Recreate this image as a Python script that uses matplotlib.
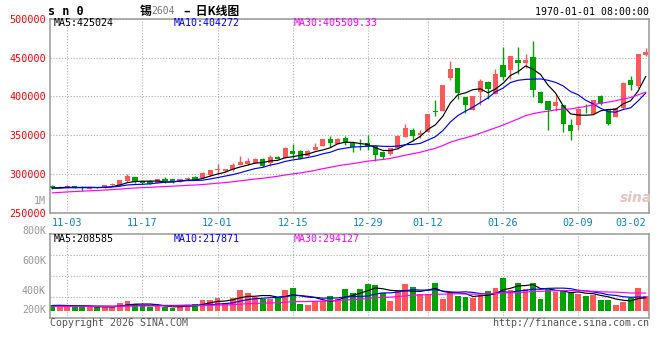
import matplotlib
matplotlib.use('Agg')
import matplotlib.pyplot as plt
import matplotlib.transforms as mtransforms
import pandas as pd

# daily bars of sn2604, oldest first (10-30 .. 03-02)
opens = [285500, 283000, 282900, 284600, 283000, 281200, 283300, 282500, 286000, 285900,
         291000, 296200, 291500, 291500, 289300, 294500, 294000, 291000, 293600, 296600,
         295300, 298700, 305100, 303800, 305100, 312000, 313700, 314500, 319700, 314200,
         322700, 321500, 330000, 330000, 323600, 331300, 336800, 345300, 338900, 347100,
         340600, 337700, 339800, 336800, 328700, 325700, 333400, 348300, 357300, 350000,
         354700, 381200, 381600, 423900, 436300, 398700, 382500, 406000, 418800, 403800,
         440100, 433700, 447400, 443100, 450800, 405600, 394000, 388000, 388900, 362900,
         363300, 382300, 377800, 400400, 383400, 374000, 384600, 420900, 413700, 452900]
highs = [286200, 285500, 286000, 285500, 284600, 283300, 284000, 286500, 289000, 293000,
         300000, 296800, 292000, 292500, 294500, 296600, 294500, 294000, 296000, 297500,
         302500, 305800, 312800, 307500, 314500, 323000, 320500, 320500, 320500, 324900,
         323200, 334500, 338500, 331000, 330800, 339800, 345500, 349200, 346500, 349200,
         341900, 344900, 350000, 337500, 329500, 334000, 350500, 364100, 359400, 356900,
         378000, 395300, 415000, 445300, 437000, 399500, 401000, 422200, 419500, 435000,
         463600, 452500, 463600, 455100, 470900, 406500, 394500, 403000, 389500, 370500,
         384800, 389800, 396000, 401700, 384000, 385600, 418500, 426000, 455000, 462800]
lows = [281500, 282500, 282500, 282000, 278700, 280800, 282000, 282000, 285500, 285500,
        290500, 289300, 288000, 287500, 288800, 288900, 289300, 290500, 293000, 292800,
        295000, 298200, 300800, 303200, 304500, 311500, 312000, 314000, 310000, 310800,
        319700, 321000, 320600, 319700, 323000, 330800, 336300, 335500, 338500, 337700,
        328300, 331300, 331300, 317600, 320200, 325000, 333000, 347800, 342800, 346200,
        354200, 375200, 381200, 421800, 397400, 378200, 382000, 388900, 396600, 403300,
        421800, 422200, 429500, 437200, 399600, 391000, 356900, 381200, 354700, 344100,
        356900, 378200, 377300, 389700, 363300, 373500, 384200, 408100, 411100, 452100]
closes = [282100, 284000, 285500, 282500, 282100, 282900, 282700, 285900, 288000, 292300,
          297900, 289800, 288500, 288000, 293600, 291500, 289800, 293600, 295300, 293200,
          301700, 305100, 306800, 306800, 312400, 316200, 317100, 319600, 310800, 322300,
          320200, 333800, 326100, 320200, 330000, 335500, 344900, 340200, 345800, 339800,
          334700, 337200, 334700, 324900, 322300, 333400, 349600, 359000, 349600, 352600,
          377400, 379500, 414500, 435000, 404700, 389300, 400400, 419600, 409400, 429500,
          425200, 451700, 443100, 446500, 408100, 391900, 382900, 392700, 365000, 356000,
          384200, 382000, 395300, 390200, 365000, 385100, 417500, 414500, 454200, 456800]
volumes = [92000, 92000, 70000, 70000, 70000, 54000, 54000, 76000, 54000, 129000,
           162000, 108000, 86000, 54000, 81000, 54000, 43000, 92000, 92000, 108000,
           173000, 173000, 205000, 125000, 205000, 335000, 291000, 216000, 184000, 195000,
           211000, 335000, 367000, 108000, 92000, 162000, 162000, 238000, 195000, 351000,
           287000, 351000, 437000, 416000, 287000, 162000, 313000, 437000, 383000, 270000,
           270000, 449000, 195000, 281000, 243000, 221000, 211000, 254000, 324000, 373000,
           529000, 335000, 449000, 351000, 453000, 195000, 352000, 296000, 324000, 287000,
           270000, 243000, 259000, 178000, 178000, 92000, 141000, 201000, 373000, 238000]

# sessions before the window: not drawn, only seed the moving averages
# (estimated from where the MA lines start on the left edge)
prior_closes = [266000, 267500, 266800, 268200, 269500, 268900, 270400, 271800, 272500, 271600,
                273800, 275200, 274600, 276300, 277500, 276900, 278200, 279400, 280300, 281600,
                281200, 280500, 282400, 281800, 280900, 283300, 282100, 284000, 282000]
prior_volumes = [62000, 70000, 58000, 66000, 74000, 60000, 68000, 72000, 64000, 58000,
                 70000, 66000, 76000, 62000, 68000, 72000, 60000, 66000, 70000, 78000,
                 64000, 70000, 62000, 68000, 71000, 80000, 88000, 76000, 89000]

tick_idx = [2, 12, 22, 32, 42, 50, 60, 70, 79]
tick_labels = ['11-03', '11-17', '12-01', '12-15', '12-29',
               '01-12', '01-26', '02-09', '03-02']
price_ticks = [250000, 300000, 350000, 400000, 450000, 500000]
vol_labels = ['800K', '600K', '400K', '200K']
ma_periods = [5, 10, 30]
ma_colors = ['black', 'blue', 'magenta']
price_ma_text = ['MA5:425024', 'MA10:404272', 'MA30:405509.33']
vol_ma_text = ['MA5:208585', 'MA10:217871', 'MA30:294127']

W, H = 660, 360
RED = '#ff5858'
GREEN = '#00a400'
GRID = '#b0b0b0'
FRAME = '#999999'
MONO = 'DejaVu Sans Mono'
CJK = ['Noto Sans CJK SC', 'DejaVu Sans']


def fx(x):
    return x / W


def fy(y):
    return 1 - y / H


def moving_avgs(prior, values):
    s = pd.Series(prior + values, dtype=float)
    return [s.rolling(p).mean().iloc[len(prior):].values for p in ma_periods]


def style_frame(ax):
    for sp in ax.spines.values():
        sp.set_color(FRAME)
        sp.set_linewidth(1.1)
    ax.tick_params(length=0)
    for i in tick_idx[:-1]:
        ax.axvline(i, color=GRID, lw=0.8, ls=(0, (1, 1.6)), zorder=1)


def draw_price(ax):
    x = list(range(len(closes)))
    cols = [RED if c >= o else GREEN for o, c in zip(opens, closes)]
    bottoms = [min(o, c) for o, c in zip(opens, closes)]
    heights = [max(abs(c - o), 1100) for o, c in zip(opens, closes)]
    ax.vlines(x, lows, highs, colors=cols, lw=1, zorder=2)
    ax.bar(x, heights, bottom=bottoms, width=0.68, color=cols, zorder=3)
    for ma, col in zip(moving_avgs(prior_closes, closes), ma_colors):
        ax.plot(x, ma, color=col, lw=0.85, zorder=4)

    ax.set_xlim(-0.31, 79.44)
    ax.set_ylim(250000, 500000)
    ax.set_yticks(price_ticks)
    ax.set_yticklabels([str(v) for v in price_ticks], color='red',
                       fontsize=7.3, family=MONO)
    ax.yaxis.grid(True, color=GRID, lw=0.8, ls=(0, (1, 1.6)))
    ax.set_axisbelow(True)
    shift = mtransforms.ScaledTranslation(0, 0.025, ax.figure.dpi_scale_trans)
    for lab in ax.get_yticklabels():
        lab.set_transform(lab.get_transform() + shift)
    ax.tick_params(axis='y', pad=3)

    ax.set_xticks(tick_idx)
    ax.set_xticklabels(tick_labels, color='#0a84c8', fontsize=7.3, family=MONO)
    ax.tick_params(axis='x', pad=3.5)
    last = ax.get_xticklabels()[-1]
    last.set_ha('right')
    last.set_transform(last.get_transform() + mtransforms.ScaledTranslation(
        0.035, 0, ax.figure.dpi_scale_trans))
    style_frame(ax)


def draw_volume(ax):
    x = list(range(len(volumes)))
    cols = [RED if c >= o else GREEN for o, c in zip(opens, closes)]
    ax.bar(x, volumes, width=0.78, color=cols, zorder=2)
    for ma, col in zip(moving_avgs(prior_volumes, volumes), ma_colors):
        ax.plot(x, ma, color=col, lw=0.85, zorder=3)
    ax.set_xlim(-0.31, 79.44)
    ax.set_ylim(-123000, 1242500)
    ax.set_xticks([])
    ax.set_yticks([])
    for f in (0.25, 0.5, 0.75):
        ax.plot([0, 1], [f, f], transform=ax.transAxes, color=GRID,
                lw=0.8, ls=(0, (1, 1.6)), zorder=1)
    style_frame(ax)


def put(fig, x, y, s, **kw):
    kw.setdefault('family', MONO)
    kw.setdefault('fontsize', 7.2)
    kw.setdefault('va', 'center')
    fig.text(fx(x), fy(y), s, **kw)


fig = plt.figure(figsize=(6.6, 3.6), dpi=100)
ax = fig.add_axes([fx(50), fy(213.3), 599 / W, (213.3 - 18.6) / H])
axv = fig.add_axes([fx(50), fy(318.3), 599 / W, 84.3 / H])
draw_price(ax)
draw_volume(axv)

# header
put(fig, 48, 11.5, 's n 0', fontsize=8.5, weight='bold')
put(fig, 140, 11, '锡', family=CJK, fontsize=8.5, weight='bold')
put(fig, 151, 11.5, '2604', color='#777777', fontsize=7)
put(fig, 184, 11, '–  日K线图', family=CJK, fontsize=8.5, weight='bold')
put(fig, 649, 12, '1970-01-01 08:00:00', ha='right', fontsize=7.1)

# MA legends
for xpos, s, col in zip([54, 174, 294], price_ma_text, ma_colors):
    put(fig, xpos, 23.5, s, color=col)
for xpos, s, col in zip([54, 174, 294], vol_ma_text, ma_colors):
    put(fig, xpos, 238.5, s, color=col)

# odd leftovers of the original layout
put(fig, 46, 200.7, '1M', ha='right', color='#999999')
for ypos, s in zip([230.7, 260.7, 290.7, 310], vol_labels):
    put(fig, 46, ypos, s, ha='right', color='#999999')

# watermark
put(fig, 636, 198, 'sina', family='DejaVu Sans', fontsize=10, weight='bold',
    style='italic', color='#e8c4c4', ha='center')

# footer
put(fig, 50, 323, 'Copyright 2026 SINA.COM', color='#555555')
put(fig, 649, 323, 'http://finance.sina.com.cn', color='#555555', ha='right')

fig.savefig('out.png', dpi=100)
